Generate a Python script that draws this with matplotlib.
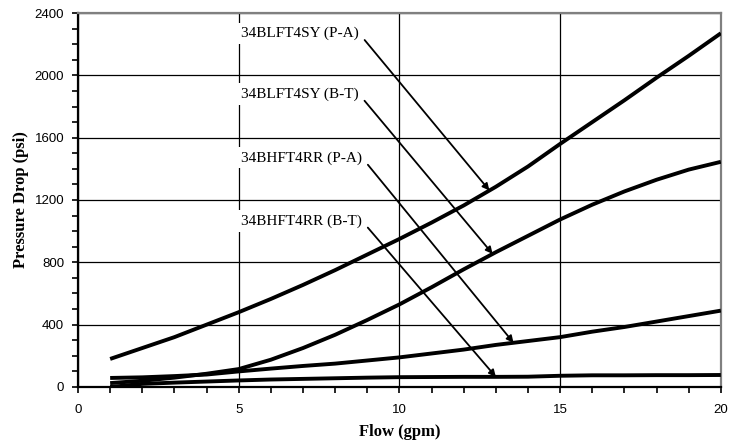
import numpy as np
import matplotlib
matplotlib.use('Agg')
import matplotlib.pyplot as plt
from matplotlib.ticker import MultipleLocator

# flow (gpm) and pressure drop (psi)
flow = [1, 2, 3, 4, 5, 6, 7, 8, 9, 10, 11, 12, 13, 14, 15, 16, 17, 18, 19, 20]
lft_pa = [180, 250, 320, 400, 480, 565, 655, 750, 850, 950, 1055, 1165, 1285, 1415, 1560, 1700, 1840, 1985, 2125, 2270]
lft_bt = [25, 40, 60, 85, 115, 175, 250, 335, 430, 530, 640, 755, 865, 970, 1075, 1170, 1255, 1330, 1395, 1445]
hft_pa = [58, 62, 70, 80, 100, 118, 135, 150, 170, 190, 215, 240, 270, 295, 320, 355, 385, 420, 455, 490]
hft_bt = [0, 20, 28, 35, 42, 48, 52, 56, 60, 63, 64, 65, 65, 66, 72, 75, 75, 76, 76, 77]

series = [lft_pa, lft_bt, hft_pa, hft_bt]
names = ['34BLFT4SY (P-A)', '34BLFT4SY (B-T)', '34BHFT4RR (P-A)', '34BHFT4RR (B-T)']
label_y = [2270, 1880, 1470, 1065]
arrow_x = [12.8, 12.9, 13.55, 13.0]

fig = plt.figure(figsize=(7.48, 4.44), dpi=100)
ax = fig.add_axes([0.1043, 0.1284, 0.8594, 0.8423])

ax.set_xlim(0, 20)
ax.set_ylim(0, 2400)
ax.xaxis.set_major_locator(MultipleLocator(5))
ax.xaxis.set_minor_locator(MultipleLocator(1))
ax.yaxis.set_major_locator(MultipleLocator(400))
ax.yaxis.set_minor_locator(MultipleLocator(100))
ax.grid(True, which='major', color='black', linewidth=0.9, zorder=0)
ax.set_axisbelow(True)

for s in series:
    ax.plot(flow, s, color='black', linewidth=2.8, solid_joinstyle='round',
            solid_capstyle='butt', zorder=3)

for name, ly, ax_x, s in zip(names, label_y, arrow_x, series):
    tip_y = np.interp(ax_x, flow, s)
    ax.annotate(name, xy=(ax_x, tip_y), xytext=(5.08, ly),
                ha='left', va='center', fontsize=11, family='Liberation Serif',
                bbox=dict(boxstyle='square,pad=0.25', fc='white', ec='none'),
                arrowprops=dict(arrowstyle='-|>', color='black', lw=1.3,
                                mutation_scale=10, relpos=(1.0, 0.5),
                                shrinkA=2, shrinkB=0),
                zorder=4)

for side in ['top', 'right']:
    ax.spines[side].set_color('#808080')
    ax.spines[side].set_linewidth(1.6)
for side in ['left', 'bottom']:
    ax.spines[side].set_color('black')
    ax.spines[side].set_linewidth(1.6)

ax.tick_params(which='both', direction='out', length=4, width=1.2, color='black')
ax.tick_params(axis='x', pad=8)
ax.tick_params(axis='y', pad=6)
for lab in ax.get_xticklabels() + ax.get_yticklabels():
    lab.set_family('Liberation Sans')
    lab.set_fontsize(9.5)

ax.set_xlabel('Flow (gpm)', family='Liberation Serif', fontweight='bold', fontsize=12, labelpad=6)
ax.set_ylabel('Pressure Drop (psi)', family='Liberation Serif', fontweight='bold', fontsize=12, labelpad=4)

fig.savefig('out.png', dpi=100)
